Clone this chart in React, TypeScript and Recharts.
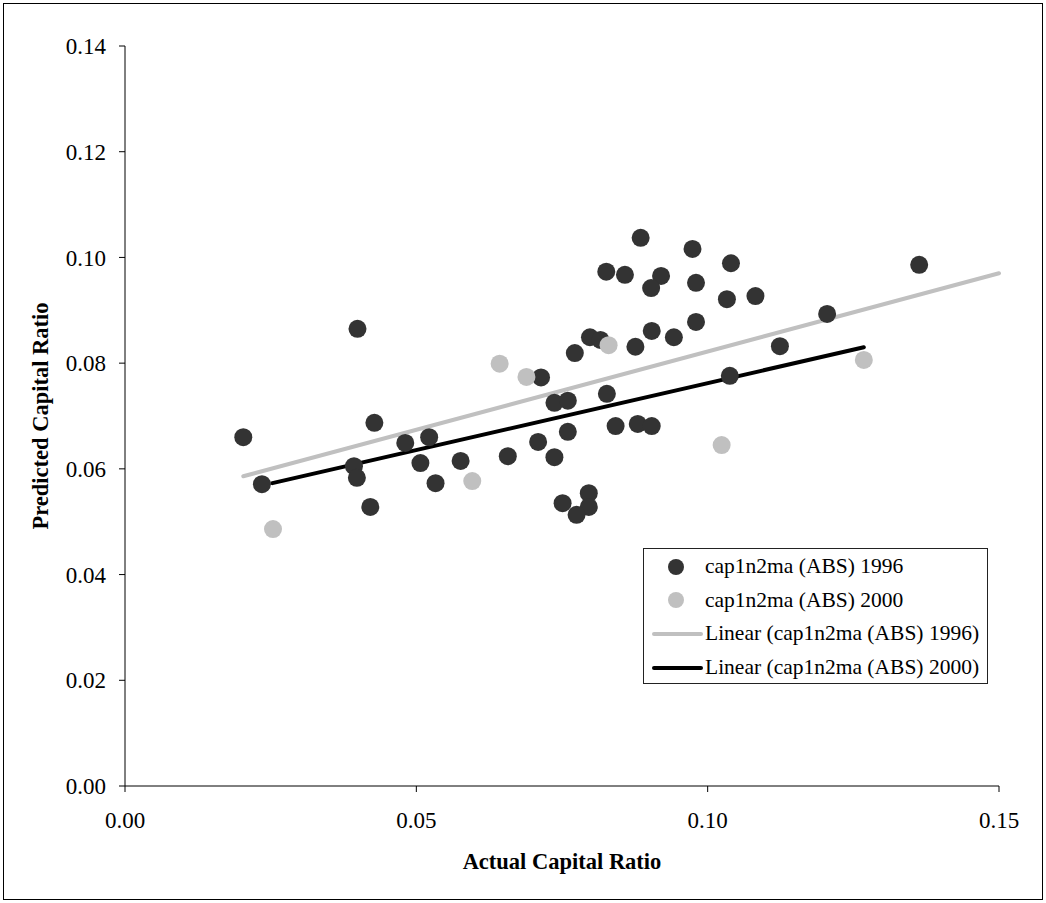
import React from "react";

import { Label, Legend, Scatter, ScatterChart, XAxis, YAxis } from "recharts";


const points1996 = [
  { x: 0.0203, y: 0.0660 }, { x: 0.0235, y: 0.0571 }, { x: 0.0399, y: 0.0865 },
  { x: 0.0428, y: 0.0687 }, { x: 0.0481, y: 0.0649 }, { x: 0.0522, y: 0.0660 },
  { x: 0.0393, y: 0.0605 }, { x: 0.0398, y: 0.0583 }, { x: 0.0507, y: 0.0611 },
  { x: 0.0576, y: 0.0615 }, { x: 0.0533, y: 0.0573 }, { x: 0.0421, y: 0.0528 },
  { x: 0.0657, y: 0.0624 }, { x: 0.0885, y: 0.1037 }, { x: 0.0974, y: 0.1016 },
  { x: 0.1040, y: 0.0989 }, { x: 0.0826, y: 0.0973 }, { x: 0.0858, y: 0.0967 },
  { x: 0.0920, y: 0.0965 }, { x: 0.0903, y: 0.0942 }, { x: 0.0980, y: 0.0952 },
  { x: 0.1033, y: 0.0921 }, { x: 0.1082, y: 0.0927 }, { x: 0.0980, y: 0.0878 },
  { x: 0.0904, y: 0.0861 }, { x: 0.0942, y: 0.0849 }, { x: 0.0798, y: 0.0849 },
  { x: 0.0816, y: 0.0844 }, { x: 0.0876, y: 0.0831 }, { x: 0.0772, y: 0.0819 },
  { x: 0.0714, y: 0.0773 }, { x: 0.0737, y: 0.0725 }, { x: 0.0760, y: 0.0729 },
  { x: 0.0827, y: 0.0742 }, { x: 0.1038, y: 0.0776 }, { x: 0.0842, y: 0.0681 },
  { x: 0.0880, y: 0.0685 }, { x: 0.0904, y: 0.0681 }, { x: 0.0760, y: 0.0670 },
  { x: 0.0709, y: 0.0651 }, { x: 0.0737, y: 0.0622 }, { x: 0.0751, y: 0.0535 },
  { x: 0.0796, y: 0.0554 }, { x: 0.0796, y: 0.0528 }, { x: 0.0775, y: 0.0513 },
  { x: 0.1363, y: 0.0986 }, { x: 0.1205, y: 0.0893 }, { x: 0.1124, y: 0.0832 },
];

const points2000 = [
  { x: 0.0643, y: 0.0799 }, { x: 0.0689, y: 0.0774 }, { x: 0.0830, y: 0.0834 },
  { x: 0.0596, y: 0.0577 }, { x: 0.0254, y: 0.0486 }, { x: 0.1024, y: 0.0645 },
  { x: 0.1268, y: 0.0806 },
];

// trendline end points
const trend1996 = [{ x: 0.0203, y: 0.0586 }, { x: 0.15, y: 0.0970 }];
const trend2000 = [{ x: 0.0253, y: 0.0573 }, { x: 0.1268, y: 0.0830 }];

const xTicks = [0, 0.05, 0.1, 0.15];
const yTicks = [0, 0.02, 0.04, 0.06, 0.08, 0.1, 0.12, 0.14];

const legendItems = [
  { name: "cap1n2ma (ABS) 1996", color: "#333333", kind: "dot" },
  { name: "cap1n2ma (ABS) 2000", color: "#c0c0c0", kind: "dot" },
  { name: "Linear (cap1n2ma (ABS) 1996)", color: "#c0c0c0", kind: "line" },
  { name: "Linear (cap1n2ma (ABS) 2000)", color: "#000000", kind: "line" },
];

const FONT = '"Liberation Serif", "Times New Roman", serif';

const dot = (color: string) => (p: any) => <circle cx={p.cx} cy={p.cy} r={9} fill={color} />;
const noDot = () => <g />;

const LegendBox = () => (
  <div style={{ border: "1px solid #222", width: 345, height: 136, boxSizing: "border-box", paddingTop: 1, fontFamily: FONT, fontSize: 21.5, color: "#000" }}>
    {legendItems.map((item) => (
      <div key={item.name} style={{ display: "flex", alignItems: "center", height: 33.6 }}>
        <div style={{ width: 61, display: "flex", justifyContent: "center" }}>
          {item.kind === "dot" ? (
            <div style={{ width: 16, height: 16, borderRadius: 8, background: item.color, marginLeft: 2 }} />
          ) : (
            <div style={{ width: 51, height: 4, borderRadius: 2, background: item.color, marginLeft: 6 }} />
          )}
        </div>
        <span style={{ whiteSpace: "nowrap" }}>{item.name}</span>
      </div>
    ))}
  </div>
);

const App = () => {
  return (
    <div style={{ position: "absolute", left: 0, top: 0, width: 1046, height: 903, background: "#fff", fontFamily: FONT }}>
      <div style={{ position: "absolute", left: 3, top: 3, width: 1038, height: 895, border: "1px solid #000" }} />
      <ScatterChart width={1046} height={903} margin={{ top: 46, right: 47, left: 0, bottom: 0 }} style={{ fontFamily: FONT }}>
        <XAxis
          type="number"
          dataKey="x"
          domain={[0, 0.15]}
          ticks={xTicks}
          tickFormatter={(v) => Number(v).toFixed(2)}
          height={117}
          tickSize={6}
          tickMargin={20}
          axisLine={{ stroke: "#000" }}
          tickLine={{ stroke: "#000" }}
          tick={{ fill: "#000", fontFamily: FONT, fontSize: 23 }}
        >
          <Label value="Actual Capital Ratio" position="center" dy={17} style={{ fontFamily: FONT, fontSize: 22.5, fontWeight: "bold", fill: "#000" }} />
        </XAxis>
        <YAxis
          type="number"
          dataKey="y"
          domain={[0, 0.14]}
          ticks={yTicks}
          tickFormatter={(v) => Number(v).toFixed(2)}
          width={125}
          tickSize={6}
          tickMargin={13}
          axisLine={{ stroke: "#000" }}
          tickLine={{ stroke: "#000" }}
          tick={{ fill: "#000", fontFamily: FONT, fontSize: 23 }}
        >
          <Label value="Predicted Capital Ratio" position="center" angle={-90} dx={-22} style={{ fontFamily: FONT, fontSize: 22.5, fontWeight: "bold", fill: "#000" }} />
        </YAxis>
        <Scatter data={trend1996} line={{ stroke: "#c0c0c0", strokeWidth: 4, strokeLinecap: "round" }} shape={noDot} isAnimationActive={false} />
        <Scatter data={trend2000} line={{ stroke: "#000000", strokeWidth: 4, strokeLinecap: "round" }} shape={noDot} isAnimationActive={false} />
        <Scatter data={points1996} shape={dot("#333333")} isAnimationActive={false} />
        <Scatter data={points2000} shape={dot("#c0c0c0")} isAnimationActive={false} />
        <Legend layout="vertical" align="center" verticalAlign="middle" wrapperStyle={{ left: 643, top: 548, width: 345 }} content={() => <LegendBox />} />
      </ScatterChart>
    </div>
  );
};

export default App;
